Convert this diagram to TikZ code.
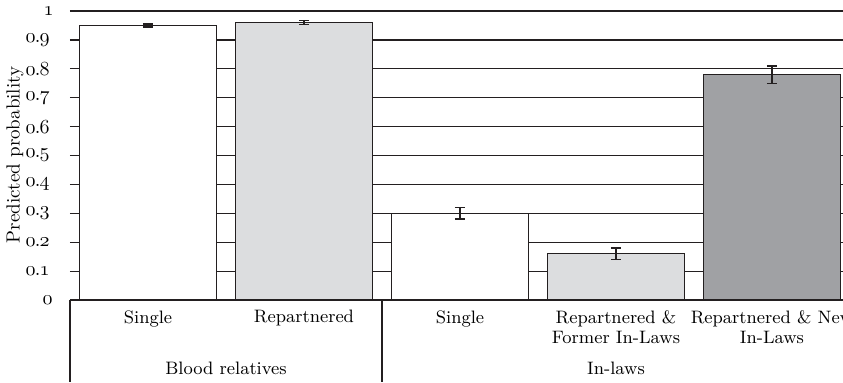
\documentclass[tikz,border=0pt]{standalone}
\usepackage{xcolor}
\usepackage{tikz}
\usetikzlibrary{positioning}

\definecolor{barlight}{HTML}{DCDDDF}
\definecolor{bardark}{HTML}{A0A1A4}
\definecolor{inkline}{HTML}{231F20}
\newcommand{\osd}[1]{{\usefont{OML}{cmm}{m}{it}#1}}

\begin{document}
\begin{tikzpicture}[x=0.5pt,y=0.5pt,font=\fontsize{9}{10}\selectfont,
    gridline/.style={draw=inkline,line width=0.6pt},
    barbox/.style={draw=inkline,line width=0.65pt},
    errbar/.style={draw=inkline,line width=0.65pt},
    ticklabel/.style={anchor=east,inner sep=0pt,font=\fontsize{10}{11}\selectfont},
    catlabel/.style={anchor=north,inner sep=0pt,align=center}]
    \useasboundingbox (-70,-82) rectangle (773,300);
    % grid lines
    \foreach \v in {1,...,10}
      \draw[gridline] (0,\v*28.9) -- (773,\v*28.9);
    % tick labels
    \node[ticklabel] (t0) at (-17,0) {\osd{0}};
    \foreach \v in {1,...,9}
      \node[ticklabel] (t\v) at (-20,\v*28.9) {\osd{0}\kern-0.4pt.\kern-0.4pt\osd{\v}};
    \node[ticklabel] (t10) at (-16,289) {\osd{1}};
    \node[rotate=90,font=\fontsize{9.5}{10}\selectfont] (ylab) at (-55,145) {Predicted probability};
    % bars with error bars
    \foreach \i/\p/\e/\c in {0/0.95/0.005/white,1/0.96/0.006/barlight,2/0.30/0.02/white,3/0.16/0.02/barlight,4/0.78/0.03/bardark}{
      \filldraw[barbox,fill=\c] (\i*156+9.5,0) rectangle (\i*156+146.5,\p*289);
      \draw[errbar] (\i*156+78,{(\p-\e)*289}) -- (\i*156+78,{(\p+\e)*289})
        (\i*156+73,{(\p-\e)*289}) -- (\i*156+83,{(\p-\e)*289})
        (\i*156+73,{(\p+\e)*289}) -- (\i*156+83,{(\p+\e)*289});
    }
    \draw[gridline] (0,0) -- (773,0);
    % category labels
    \node[catlabel] (c1) at (78,-10) {Single};
    \node[catlabel] (c2) at (234,-10) {Repartnered};
    \node[catlabel] (c3) at (390,-10) {Single};
    \node[catlabel] (c4) at (546,-10) {Repartnered \&\\Former In-Laws};
    \node[catlabel] (c5) at (702,-10) {Repartnered \& New\\In-Laws};
    % group labels and separators
    \draw[gridline] (0,0) -- (0,-82) (312,0) -- (312,-82);
    \node[catlabel] (g1) at (156,-62) {Blood relatives};
    \node[catlabel] (g2) at (546,-62) {In-laws};
\end{tikzpicture}
\end{document}
